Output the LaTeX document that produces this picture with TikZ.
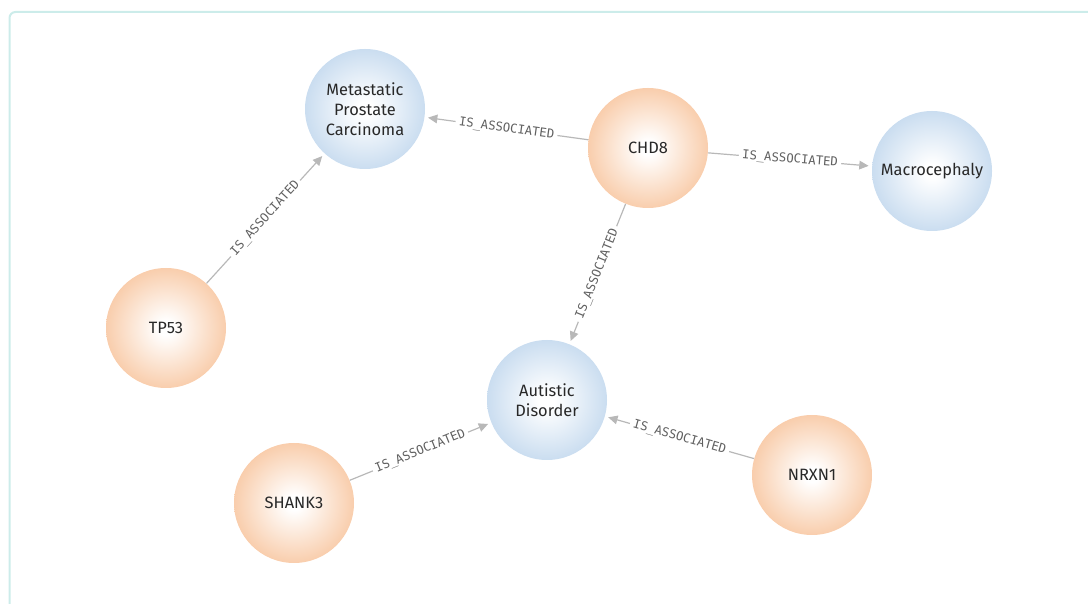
\documentclass[tikz,border=0pt]{standalone}
\usepackage{fontspec}
\setmainfont{Fira Sans}
\setmonofont{DejaVu Sans Mono}
\usetikzlibrary{arrows.meta}

\definecolor{genec}{RGB}{247,192,150}
\definecolor{diseasec}{RGB}{188,212,236}
\definecolor{framec}{RGB}{204,236,234}
\definecolor{edgec}{RGB}{184,184,184}
\definecolor{labelc}{RGB}{96,96,96}
\definecolor{textc}{RGB}{40,40,40}

\pgfdeclareradialshading{geneglow}{\pgfpoint{0bp}{0bp}}{color(0bp)=(white); color(3bp)=(white); color(31bp)=(genec); color(50bp)=(genec)}
\pgfdeclareradialshading{diseaseglow}{\pgfpoint{0bp}{0bp}}{color(0bp)=(white); color(3bp)=(white); color(31bp)=(diseasec); color(50bp)=(diseasec)}

\tikzset{
  entity/.style={circle, inner sep=0pt, minimum size=90pt, align=center,
    text=textc, font=\fontsize{12.3}{14.8}\selectfont},
  gene/.style={entity, shading=geneglow},
  disease/.style={entity, shading=diseaseglow},
  rel/.style={draw=edgec, line width=0.9pt, shorten >=2.5pt,
    -{Triangle[length=7pt,width=6.5pt]}},
  rellabel/.style={sloped, fill=white, inner sep=2.5pt, text=labelc,
    font=\ttfamily\fontsize{9.2}{10}\selectfont}
}

\begin{document}
\begin{tikzpicture}[x=0.75pt,y=0.75pt]
\useasboundingbox (0,0) rectangle (1088,603);
\clip (0,0) rectangle (1088,603);

%Shape: Frame
\draw [framec, line width=1.5pt, rounded corners=4.5pt] (1100,591) -- (9.5,591) -- (9.5,-20);

%Nodes
\node [disease] (mpc) at (365,494) {Metastatic\\Prostate\\Carcinoma};
\node [gene] (chd8) at (648,455) {CHD8};
\node [disease] (macro) at (932,432) {Macrocephaly};
\node [gene] (tp53) at (166,275) {TP53};
\node [disease] (autism) at (547,203) {Autistic\\Disorder};
\node [gene] (shank3) at (294,100) {SHANK3};
\node [gene] (nrxn1) at (812,128) {NRXN1};

%Relations
\draw [rel] (chd8) -- node [rellabel] {IS\_ASSOCIATED} (mpc);
\draw [rel] (chd8) -- node [rellabel] {IS\_ASSOCIATED} (macro);
\draw [rel] (chd8) -- node [rellabel] {IS\_ASSOCIATED} (autism);
\draw [rel] (tp53) -- node [rellabel] {IS\_ASSOCIATED} (mpc);
\draw [rel] (shank3) -- node [rellabel] {IS\_ASSOCIATED} (autism);
\draw [rel] (nrxn1) -- node [rellabel] {IS\_ASSOCIATED} (autism);

\end{tikzpicture}
\end{document}
